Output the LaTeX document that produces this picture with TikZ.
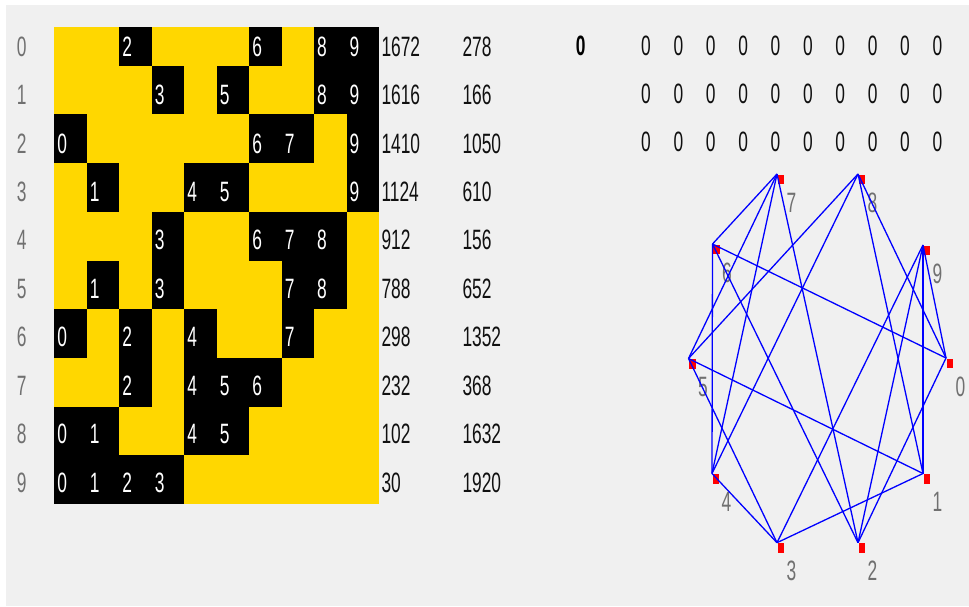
\documentclass[tikz,border=0pt]{standalone}
\usepackage{fontspec}
\setmainfont{Liberation Sans}
\newfontfamily\nar[FakeStretch=0.62]{Liberation Sans}
\definecolor{bggray}{HTML}{F0F0F0}
\definecolor{cellgold}{HTML}{FFD700}
\definecolor{labgray}{HTML}{707070}
\definecolor{edgeblue}{HTML}{0000FF}
\definecolor{numblack}{HTML}{101010}
\definecolor{sqred}{HTML}{FF0000}
\tikzset{
  txt/.style={font=\nar\fontsize{28}{28}\selectfont, inner sep=0pt, anchor=center},
  rowlab/.style={txt, text=labgray},
  cellnum/.style={txt, text=white},
  num/.style={txt, anchor=west, text=numblack},
  zeronum/.style={txt, text=numblack},
  boldnum/.style={txt, text=black, font=\nar\bfseries\fontsize{28}{28}\selectfont},
  glab/.style={txt, text=labgray},
  edge/.style={draw=edgeblue, line width=1.3pt},
  vsq/.style={fill=sqred}
}
\begin{document}
\begin{tikzpicture}[x=1pt,y=-1pt]
\useasboundingbox (0,0) rectangle (969,606);
\fill[white] (0,0) rectangle (969,606);
\fill[bggray] (6,5) rectangle (969,606);

% matrix background
\fill[cellgold] (54.3,26.7) rectangle (379,504);
% black cells
\foreach \r/\cols in {0/{2,6,8,9},1/{3,5,8,9},2/{0,6,7,9},3/{1,4,5,9},4/{3,6,7,8},5/{1,3,7,8},6/{0,2,4,7},7/{2,4,5,6},8/{0,1,4,5},9/{0,1,2,3}}{
  \pgfmathsetmacro\rt{\r==0 ? 26.7 : 65.7+48.7*(\r-1)}
  \pgfmathsetmacro\rb{65.7+48.7*\r}
  \foreach \c in \cols {
    \fill[black] (54.3+32.47*\c,\rt) rectangle (54.3+32.47*\c+32.6,\rb);
    \node[cellnum] (m\r-\c) at (54.3+32.47*\c+8, 46.5+48.45*\r) {\c};
  }
}
% row labels
\foreach \k in {0,...,9}
  \node[rowlab] (rl\k) at (21.7, 46.5+48.45*\k) {\k};
% number columns
\foreach \v [count=\i from 0] in {1672,1616,1410,1124,912,788,298,232,102,30}
  \node[num] (na\i) at (381.3, 46.5+48.45*\i) {\v};
\foreach \v [count=\i from 0] in {278,166,1050,610,156,652,1352,368,1632,1920}
  \node[num] (nb\i) at (462.3, 46.5+48.45*\i) {\v};
% right panel zeros
\node[boldnum] (bz) at (580.7,45.5) {0};
\foreach \rr in {0,1,2}
  \foreach \j in {0,...,9}
    \node[zeronum] (z\rr-\j) at (646+32.37*\j, 45.5+48.2*\rr) {0};

% graph vertices
\coordinate (v0) at (946,358);
\coordinate (v1) at (923,473.5);
\coordinate (v2) at (858,542.7);
\coordinate (v3) at (777,542.7);
\coordinate (v4) at (712,473.5);
\coordinate (v5) at (688.5,358.5);
\coordinate (v6) at (712.5,244);
\coordinate (v7) at (777,174);
\coordinate (v8) at (858,174);
\coordinate (v9) at (923,245);
\foreach \k in {0,...,9}{
  \fill[vsq] ([shift={(0.5,0.5)}]v\k) rectangle ([shift={(7.3,10)}]v\k);
  \node[glab] (l\k) at ([shift={(14.5,28.5)}]v\k) {\k};
}
\foreach \a/\b in {0/2,0/6,0/8,0/9,1/3,1/5,1/8,1/9,2/6,2/7,2/9,3/4,3/5,3/9,4/6,4/7,4/8,5/7,5/8,6/7}
  \draw[edge] (v\a) -- (v\b);
\end{tikzpicture}
\end{document}
